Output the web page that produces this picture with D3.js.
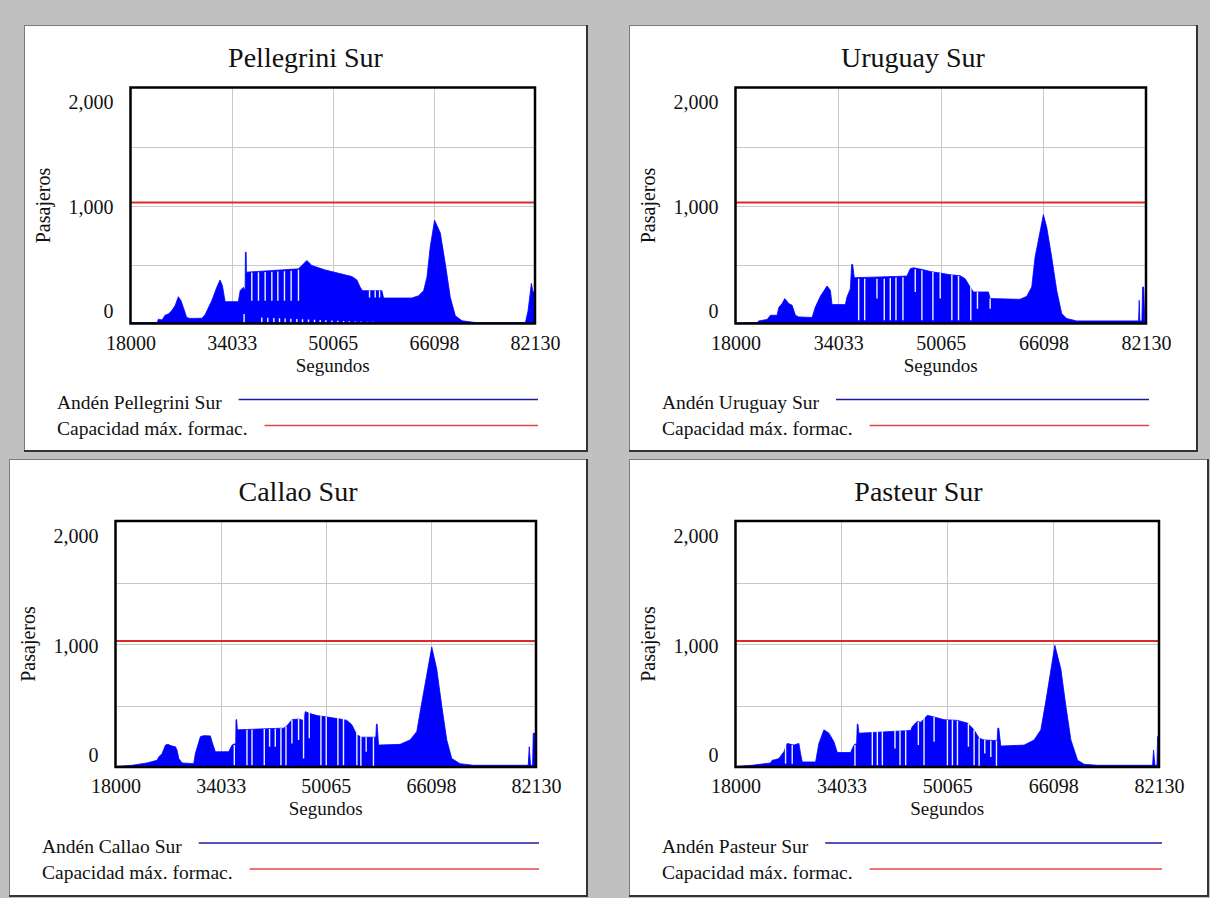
<!DOCTYPE html>
<html>
<head>
<meta charset="utf-8">
<script src="https://cdn.jsdelivr.net/npm/d3@7"></script>
<style>
  body { margin: 0; background: #c0c0c0; }
  svg { display: block; }
</style>
</head>
<body>
<script>
// ---- data ----
const xTicks = [18000, 34033, 50065, 66098, 82130];
const yTicks = [0, 1000, 2000];
const gridY = [500, 1000, 1500];
const capacidad = 1025;
const titles = ["Pellegrini Sur", "Uruguay Sur", "Callao Sur", "Pasteur Sur"];
const legendBlue = ["Andén Pellegrini Sur", "Andén Uruguay Sur", "Andén Callao Sur", "Andén Pasteur Sur"];
const legendRed = "Capacidad máx. formac.";

// envelope of the platform series (seconds, passengers)
const pellegriniT = [18000, 22250, 22412, 23000, 23475, 24000, 24530, 25062, 25590, 26010, 26380, 26910, 27440, 29300, 29820, 30880, 31680, 32200, 32570, 33000, 35110, 35380, 35900, 36170, 36220, 36330, 36380, 44630, 45160, 45960, 46750, 48870, 50980, 53100, 53890, 54420, 54790, 57860, 58120, 62620, 63680, 64470, 65000, 65520, 66210, 67120, 67910, 68700, 69500, 70560, 72670, 80610, 81030, 81560, 81770, 82090, 82130];
const pellegriniV = [8, 8, 37, 30, 70, 80, 108, 150, 227, 193, 136, 51, 43, 45, 74, 193, 307, 369, 321, 185, 185, 278, 307, 278, 605, 605, 435, 463, 491, 534, 491, 454, 426, 398, 369, 307, 278, 278, 216, 216, 236, 278, 392, 648, 875, 767, 506, 222, 65, 23, 8, 8, 108, 341, 278, 250, 250];
const pellegriniGaps = [
  [36010, 8, 80], [37230, 193, 432], [38290, 193, 434], [39350, 193, 436], [40410, 193, 438],
  [41360, 193, 440], [42410, 193, 442], [43470, 193, 446], [44630, 193, 455],
  [38816, 10, 50], [39769, 10, 48], [40721, 10, 46], [41620, 10, 44], [42520, 10, 42], [43419, 10, 40],
  [44371, 10, 38], [45270, 10, 36], [46222, 10, 34], [47174, 10, 32], [48074, 10, 30], [48973, 10, 28],
  [49925, 10, 26], [50877, 10, 24], [51776, 10, 22], [52676, 10, 20], [53628, 10, 18], [54580, 10, 16],
  [55480, 10, 15], [56379, 10, 14], [57331, 10, 13],
  [55900, 220, 280], [56800, 220, 280], [57490, 220, 280]
];

const uruguayT = [18000, 21380, 21640, 22940, 23460, 24500, 24760, 25280, 25700, 26320, 26840, 27360, 27880, 29960, 30480, 31260, 32300, 32820, 33080, 35160, 35420, 35940, 36150, 36300, 36560, 43220, 44780, 45300, 45820, 47380, 48420, 49980, 51540, 53100, 53880, 54660, 55180, 57520, 57780, 62460, 63500, 64280, 64800, 66100, 66620, 67400, 68180, 68960, 69740, 71300, 80970, 81070, 81170, 81490, 81600, 81760, 81960, 82130];
const uruguayV = [5, 8, 22, 34, 70, 70, 135, 169, 211, 169, 155, 70, 56, 51, 140, 230, 318, 281, 160, 160, 225, 295, 500, 500, 388, 399, 402, 464, 472, 455, 441, 427, 413, 405, 379, 309, 267, 267, 211, 205, 230, 309, 562, 922, 815, 562, 281, 84, 42, 22, 22, 197, 22, 22, 309, 309, 6, 6];
const uruguayGaps = [
  [37240, 28, 379], [38180, 28, 379], [40100, 211, 379], [41240, 28, 379], [42180, 28, 385],
  [43070, 28, 390], [44160, 28, 392], [46080, 267, 460], [47120, 28, 452], [48840, 28, 438],
  [49980, 211, 427], [51800, 28, 410], [52840, 28, 403], [54760, 28, 309], [55800, 126, 267],
  [57780, 126, 211]
];

const callaoT = [18000, 20540, 22820, 24350, 24600, 25110, 25620, 25970, 26630, 27140, 27390, 27650, 28160, 29930, 30180, 30950, 31450, 32470, 32720, 33230, 35260, 35770, 36330, 36380, 36480, 36580, 39580, 43630, 44150, 44910, 45920, 46680, 46940, 47700, 48720, 50240, 52270, 53290, 54050, 54810, 55570, 57700, 57800, 57900, 58110, 61410, 62930, 63950, 64710, 66230, 66990, 67760, 68520, 69280, 70540, 72570, 80950, 81100, 81300, 81610, 81710, 81960, 82130];
const callaoV = [5, 14, 33, 55, 82, 110, 178, 184, 170, 165, 137, 69, 33, 27, 110, 247, 255, 253, 206, 124, 124, 178, 192, 385, 385, 302, 308, 316, 335, 385, 390, 379, 450, 434, 418, 407, 390, 379, 343, 261, 242, 242, 349, 349, 178, 184, 220, 288, 522, 975, 797, 495, 220, 69, 27, 14, 14, 165, 14, 14, 275, 275, 200];
const callaoGaps = [
  [36120, 14, 178], [38050, 14, 302], [38820, 14, 302], [40690, 14, 308], [41500, 165, 308],
  [42370, 165, 310], [43230, 14, 316], [44000, 14, 330], [44910, 192, 385], [45920, 220, 390],
  [46680, 69, 440], [47550, 233, 450], [49330, 14, 418], [50140, 14, 410], [51920, 14, 398],
  [52770, 14, 390], [54810, 14, 300], [55420, 0, 260], [56230, 124, 242], [57340, 0, 242]
];

const pasteurT = [18000, 20530, 23310, 23560, 24060, 24570, 25330, 25830, 26840, 27600, 27850, 28110, 30130, 30630, 31390, 32150, 32900, 33420, 35430, 35930, 36340, 36440, 36540, 36690, 44530, 44780, 45540, 46050, 47060, 48070, 49580, 51610, 53120, 54130, 54890, 55640, 57620, 57720, 57870, 58170, 61710, 63220, 64240, 65000, 66360, 67270, 68030, 68790, 69800, 70800, 72830, 81160, 81310, 81510, 81820, 81920, 82130];
const pasteurV = [5, 14, 33, 55, 60, 69, 124, 192, 178, 192, 110, 41, 41, 192, 302, 275, 206, 118, 118, 178, 192, 349, 349, 275, 297, 330, 371, 363, 420, 407, 385, 379, 357, 302, 233, 220, 214, 316, 316, 170, 178, 220, 302, 536, 989, 797, 494, 220, 55, 22, 14, 14, 137, 14, 14, 247, 247];
const pasteurGaps = [
  [25580, 27, 178], [26590, 27, 178], [36090, 0, 178], [38720, 14, 292], [39480, 14, 294],
  [40240, 14, 294], [42150, 151, 294], [42910, 14, 294], [43770, 14, 296], [45690, 178, 368],
  [46550, 14, 400], [48070, 206, 407], [50090, 14, 385], [50850, 14, 380], [51610, 14, 377],
  [53270, 165, 352], [54130, 14, 302], [54890, 0, 233], [55750, 110, 220], [56660, 82, 214],
  [57520, 0, 214]
];

const seriesT = [pellegriniT, uruguayT, callaoT, pasteurT];
const seriesV = [pellegriniV, uruguayV, callaoV, pasteurV];
const seriesGaps = [pellegriniGaps, uruguayGaps, callaoGaps, pasteurGaps];

// ---- layout of the four panels ----
const panels = [
  { frame: [24, 25, 587, 451], plot: { l: 130.5, r: 535, t: 87.5, b: 323.5 } },
  { frame: [629, 25, 1197, 451], plot: { l: 735.5, r: 1146, t: 87.5, b: 323.5 } },
  { frame: [9, 459, 587, 896], plot: { l: 115.5, r: 536, t: 521, b: 767 } },
  { frame: [629, 459, 1208, 896], plot: { l: 735.5, r: 1159, t: 521, b: 767 } }
];

const serif = "'Liberation Serif', 'Times New Roman', serif";
const colors = {
  area: "#0000ff",
  gap: "#eef0ff",
  cap: "#dc2a2a",
  legendBlue: "#1c1ca0",
  legendRed: "#e04848",
  grid: "#c8c8c8"
};

const svg = d3.select("body").append("svg")
  .attr("width", 1210)
  .attr("height", 898);

svg.append("rect")
  .attr("width", 1210)
  .attr("height", 898)
  .attr("fill", "#c0c0c0");

panels.forEach((p, i) => {
  const { l, r, t, b } = p.plot;
  const [fl, ft, fr, fb] = p.frame;
  const g = svg.append("g");

  // panel frame
  g.append("rect")
    .attr("x", fl + 0.5).attr("y", ft + 0.5)
    .attr("width", fr - fl).attr("height", fb - ft)
    .attr("fill", "#fff")
    .attr("stroke", "#7a7a7a");
  g.append("path")
    .attr("d", `M${fr},${ft} V${fb} H${fl}`)
    .attr("fill", "none")
    .attr("stroke", "#333")
    .attr("stroke-width", 2);

  const x = d3.scaleLinear().domain([18000, 82130]).range([l, r]);
  const y = d3.scaleLinear().domain([0, 2000]).range([b, t]);

  // grid
  g.append("g").selectAll("line")
    .data(xTicks.slice(1, -1))
    .join("line")
    .attr("x1", d => Math.round(x(d)) + 0.5).attr("x2", d => Math.round(x(d)) + 0.5)
    .attr("y1", t).attr("y2", b)
    .attr("stroke", colors.grid);
  g.append("g").selectAll("line")
    .data(gridY)
    .join("line")
    .attr("x1", l).attr("x2", r)
    .attr("y1", d => Math.round(y(d)) + 0.5).attr("y2", d => Math.round(y(d)) + 0.5)
    .attr("stroke", colors.grid);

  // clip
  const clipId = "clip" + i;
  g.append("clipPath").attr("id", clipId)
    .append("rect").attr("x", l).attr("y", t).attr("width", r - l).attr("height", b - t);

  const plotG = g.append("g").attr("clip-path", `url(#${clipId})`);

  // platform series
  const pts = seriesT[i].map((tt, k) => ({ t: tt, v: seriesV[i][k] }));
  const area = d3.area()
    .x(d => x(d.t))
    .y0(y(0))
    .y1(d => y(d.v));
  plotG.append("path")
    .datum(pts)
    .attr("d", area)
    .attr("fill", colors.area)
    .attr("stroke", colors.area)
    .attr("stroke-width", 0.8);

  // white gaps in the sawtooth
  plotG.selectAll("line.gap")
    .data(seriesGaps[i])
    .join("line")
    .attr("class", "gap")
    .attr("x1", d => x(d[0])).attr("x2", d => x(d[0]))
    .attr("y1", d => y(d[1])).attr("y2", d => y(d[2]))
    .attr("stroke", colors.gap)
    .attr("stroke-width", 1.4);

  // capacity line
  plotG.append("line")
    .attr("x1", l).attr("x2", r)
    .attr("y1", y(capacidad)).attr("y2", y(capacidad))
    .attr("stroke", colors.cap)
    .attr("stroke-width", 2);

  // plot border
  g.append("rect")
    .attr("x", l).attr("y", t)
    .attr("width", r - l).attr("height", b - t)
    .attr("fill", "none")
    .attr("stroke", "#000")
    .attr("stroke-width", 2.5);

  // axes
  const xAxis = g.append("g")
    .attr("transform", `translate(0,${b})`)
    .call(d3.axisBottom(x).tickValues(xTicks).tickSize(0).tickPadding(12).tickFormat(d3.format("d")));
  const yAxis = g.append("g")
    .attr("transform", `translate(${l},0)`)
    .call(d3.axisLeft(y).tickValues(yTicks).tickSize(0).tickPadding(17).tickFormat(d3.format(",")));
  [xAxis, yAxis].forEach(ax => {
    ax.select(".domain").remove();
    ax.selectAll("text")
      .attr("font-family", serif)
      .attr("font-size", 20)
      .attr("fill", "#111");
  });
  // end labels sit inside the frame like in the original
  yAxis.selectAll(".tick text")
    .attr("dy", d => d === 2000 ? "1.05em" : d === 0 ? "-0.28em" : "0.4em");

  // title
  g.append("text")
    .attr("x", (fl + fr) / 2)
    .attr("y", t - 20.5)
    .attr("text-anchor", "middle")
    .attr("font-family", serif)
    .attr("font-size", 28)
    .attr("fill", "#111")
    .text(titles[i]);

  // axis titles
  g.append("text")
    .attr("x", (l + r) / 2)
    .attr("y", b + 48)
    .attr("text-anchor", "middle")
    .attr("font-family", serif)
    .attr("font-size", 19)
    .attr("fill", "#111")
    .text("Segundos");
  g.append("text")
    .attr("transform", `translate(${l - 88},${(t + b) / 2}) rotate(-90)`)
    .attr("text-anchor", "middle")
    .attr("dominant-baseline", "central")
    .attr("font-family", serif)
    .attr("font-size", 20)
    .attr("fill", "#111")
    .text("Pasajeros");

  // legend
  const legendItems = [
    { label: legendBlue[i], color: colors.legendBlue, dy: 79 },
    { label: legendRed, color: colors.legendRed, dy: 105 }
  ];
  legendItems.forEach(item => {
    const txt = g.append("text")
      .attr("x", fl + 33)
      .attr("y", b + item.dy)
      .attr("dominant-baseline", "central")
      .attr("font-family", serif)
      .attr("font-size", 19.5)
      .attr("fill", "#111")
      .text(item.label);
    const end = fl + 33 + txt.node().getComputedTextLength();
    g.append("line")
      .attr("x1", end + 17).attr("x2", r + 3)
      .attr("y1", b + item.dy - 3).attr("y2", b + item.dy - 3)
      .attr("stroke", item.color)
      .attr("stroke-width", 1.6);
  });
});
</script>
</body>
</html>
